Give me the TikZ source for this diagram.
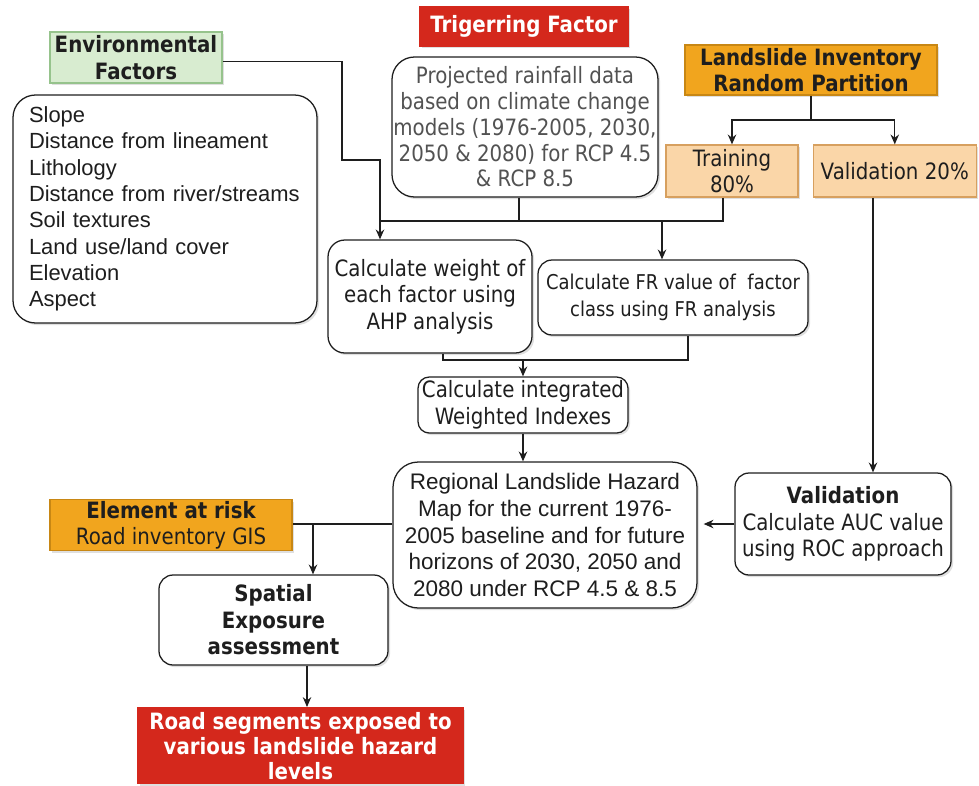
\documentclass[tikz,border=0pt]{standalone}
\usepackage{fontspec}
\setmainfont{Liberation Sans}
\newfontfamily\tah[FakeStretch=0.88]{DejaVu Sans}
\usetikzlibrary{positioning,shadows,arrows.meta}

\newlength\pxu
\setlength\pxu{0.025cm}

\definecolor{ink}{RGB}{30,30,30}
\definecolor{envfill}{RGB}{216,236,208}
\definecolor{envline}{RGB}{150,195,140}
\definecolor{trigred}{RGB}{212,40,28}
\definecolor{invorange}{RGB}{241,165,30}
\definecolor{invline}{RGB}{200,135,20}
\definecolor{peach}{RGB}{250,214,168}
\definecolor{peachline}{RGB}{215,160,95}

\begin{document}
\begin{tikzpicture}[
    x=0.025cm, y=-0.025cm,
    box/.style={draw=ink, line width=0.9pt, rounded corners=10pt, fill=white, text=ink, align=center, inner sep=1pt,
        font=\tah\fontsize{16}{18.8}\selectfont,
        drop shadow={shadow xshift=1.5pt, shadow yshift=-1.5pt, opacity=0.25}},
    tag/.style={box, sharp corners, font=\tah\bfseries\fontsize{16}{18.8}\selectfont},
    arrow/.style={-{Stealth[length=7pt,width=6pt]}, line width=0.9pt, draw=ink},
    line/.style={line width=0.9pt, draw=ink},
    node distance=14\pxu
]
\useasboundingbox (0,0) rectangle (979,785);

% Conditioning factors
\node[tag, fill=envfill, draw=envline, minimum width=172\pxu, minimum height=51\pxu] (env) at (136,57.5) {Environmental\\Factors};
\node[box, rounded corners=16pt, minimum width=304\pxu, minimum height=228\pxu, text width=272\pxu, align=left,
    font=\fontsize{15.6}{18.7}\selectfont] (factors) at (165,209)
    {Slope\\Distance from lineament\\Lithology\\Distance from river/streams\\Soil textures\\Land use/land cover\\Elevation\\Aspect};

% Triggering factor
\node[tag, fill=trigred, draw=trigred, text=white, minimum width=208\pxu, minimum height=39\pxu] (trig) at (524,26.5) {Trigerring Factor};
\node[box, rounded corners=16pt, inner sep=0pt, text=black!68, minimum width=266\pxu, minimum height=140\pxu,
    font=\tah\fontsize{16}{18.3}\selectfont] (rain) at (525,127)
    {Projected rainfall data\\based on climate change\\models (1976-2005, 2030,\\2050 \& 2080) for RCP 4.5\\\& RCP 8.5};

% Inventory and its partition
\node[tag, fill=invorange, draw=invline, minimum width=252\pxu, minimum height=50\pxu] (inv) at (811,70) {Landslide Inventory\\Random Partition};
\node[tag, font=\tah\fontsize{16}{18.8}\selectfont, fill=peach, draw=peachline, minimum width=132\pxu, minimum height=52\pxu] (train) at (732,171) {Training\\80\%};
\node[tag, font=\tah\fontsize{16}{18.8}\selectfont, fill=peach, draw=peachline, minimum width=163\pxu, minimum height=52\pxu, right=14\pxu of train] (check) {Validation 20\%};

% Weighting steps
\node[box, rounded corners=12pt, minimum width=204\pxu, minimum height=113\pxu] (ahp) at (430,296.5) {Calculate weight of\\each factor using\\AHP analysis};
\node[box, minimum width=270\pxu, minimum height=75\pxu, font=\tah\fontsize{14.5}{19}\selectfont] (fr) at (673,297.5) {Calculate FR value of\ \ factor\\class using FR analysis};
\node[box, rounded corners=8pt, minimum width=210\pxu, minimum height=56\pxu] (wi) at (523,405) {Calculate integrated\\Weighted Indexes};

% Hazard map and validation
\node[box, rounded corners=18pt, minimum width=304\pxu, minimum height=146\pxu, font=\fontsize{16}{18.9}\selectfont] (hazard) at (545,535)
    {Regional Landslide Hazard\\Map for the current 1976-\\2005 baseline and for future\\horizons of 2030, 2050 and\\2080 under RCP 4.5 \& 8.5};
\node[box, minimum width=216\pxu, minimum height=102\pxu] (roc) at (843,524) {\textbf{Validation}\\Calculate AUC value\\using ROC approach};

% Exposure
\node[tag, fill=invorange, draw=invline, minimum width=242\pxu, minimum height=50\pxu] (risk) at (171,525) {Element at risk\\{\mdseries Road inventory GIS}};
\node[box, minimum width=229\pxu, minimum height=90\pxu, font=\tah\bfseries\fontsize{16}{18.8}\selectfont] (expo) at (273.5,620) {Spatial\\Exposure\\assessment};
\node[tag, fill=trigred, draw=trigred, text=white, minimum width=325\pxu, minimum height=76\pxu, anchor=north,
    font=\tah\bfseries\fontsize{16}{17.8}\selectfont] (result) at (300.5,707)
    {Road segments exposed to\\various landslide hazard\\levels};

% Inputs to the weighting
\coordinate (bend) at (342,160);
\coordinate (hub) at (380,221);
\coordinate (raindrop) at (519,221);
\coordinate (traindrop) at (723,221);
\coordinate (frdrop) at (662,221);
\draw[line] ([yshift=-4\pxu]env.east) -| (bend) -| (hub);
\draw[arrow] (hub) -- (hub |- ahp.north);
\draw[line] (raindrop |- rain.south) -- (raindrop);
\draw[line] (traindrop |- train.south) -- (traindrop) -- (hub);
\draw[arrow] (frdrop) -- (frdrop |- fr.north);

% Partition
\coordinate (fork) at (811,120);
\draw[line] (inv) -- (fork);
\foreach \n in {train,check}
    \draw[arrow] (fork) -| (\n);
\coordinate (checkdrop) at (873,200);
\draw[arrow] (checkdrop |- check.south) -- (checkdrop |- roc.north);

% Integration and map
\coordinate (ahpdrop) at (443,360);
\coordinate (frjoin) at (688,360);
\coordinate (join) at (523,360);
\draw[line] (ahpdrop |- ahp.south) -- (ahpdrop) -- (frjoin) -- (frjoin |- fr.south);
\draw[arrow] (join) -- (wi);
\draw[arrow] (wi) -- (wi.south |- hazard.north);
\draw[arrow, shorten >=6\pxu] (roc) -- (roc -| hazard.east);

% Exposure chain
\coordinate (riskdrop) at (313,524);
\coordinate (expodrop) at (307,680);
\draw[line] (hazard.west |- riskdrop) -- (risk.east |- riskdrop);
\draw[arrow] (riskdrop) -- (riskdrop |- expo.north);
\draw[arrow] (expodrop |- expo.south) -- (expodrop |- result.north);

\end{tikzpicture}
\end{document}
